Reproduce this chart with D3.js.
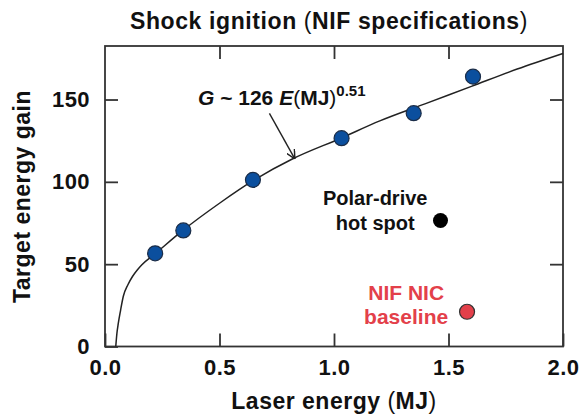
<!DOCTYPE html>
<html>
<head>
<meta charset="utf-8">
<script src="https://cdn.jsdelivr.net/npm/d3@7"></script>
<style>
  body { margin: 0; background: #fff; }
  text { font-family: "Liberation Sans", Arial, Helvetica, sans-serif; font-weight: bold; fill: #111; }
</style>
</head>
<body>
<script>
// simulation points (laser energy MJ, gain)
const energy = [0.219, 0.342, 0.646, 1.033, 1.348, 1.607];
const gain = [56.6, 70.5, 101.2, 126.5, 141.7, 163.9];

// fit curve
const fitE = [0.047, 0.052, 0.058, 0.068, 0.08, 0.10, 0.12, 0.14, 0.16, 0.22, 0.34, 0.5, 0.65, 0.82, 1.03, 1.2, 1.4, 1.6, 1.8, 2.0];
const fitG = [0, 8, 14, 22, 30.5, 37.5, 42.5, 46.3, 49.5, 56.5, 70.5, 87, 101, 114, 126.5, 137, 147.5, 158, 168.5, 178];

const polarPt = [1.465, 76.5];
const nicPt = [1.581, 21.1];

const xTicks = [0, 0.5, 1.0, 1.5, 2.0];
const yTicks = [0, 50, 100, 150];

const W = 583, H = 417;
const plotL = 105, plotR = 563, plotT = 46, plotB = 346.5;

const svg = d3.select('body').append('svg')
  .attr('width', W)
  .attr('height', H);

const x = d3.scaleLinear().domain([0, 2]).range([plotL, plotR]);
const y = d3.scaleLinear().domain([0, 182.5]).range([plotB, plotT]);

// frame
svg.append('rect')
  .attr('x', plotL).attr('y', plotT)
  .attr('width', plotR - plotL).attr('height', plotB - plotT)
  .attr('fill', 'none').attr('stroke', '#333').attr('stroke-width', 1.8);

function styleAxis(g) {
  g.select('.domain').remove();
  g.selectAll('.tick line').attr('stroke', '#333').attr('stroke-width', 1.8);
  g.selectAll('.tick text')
    .attr('fill', '#111')
    .style('font-size', '22px')
    .style('letter-spacing', '0.4px')
    .style('font-family', '"Liberation Sans", Arial, sans-serif')
    .style('font-weight', 'bold');
}

svg.append('g')
  .attr('transform', `translate(0,${plotB})`)
  .call(d3.axisBottom(x).tickValues(xTicks).tickFormat(d3.format('.1f')).tickSizeInner(-13).tickSizeOuter(0).tickPadding(13))
  .call(styleAxis);

svg.append('g')
  .attr('transform', `translate(0,${plotT})`)
  .call(d3.axisTop(x).tickValues(xTicks.slice(1, 4)).tickSizeInner(-13).tickSizeOuter(0).tickFormat(''))
  .call(styleAxis);

svg.append('g')
  .attr('transform', `translate(${plotL},0)`)
  .call(d3.axisLeft(y).tickValues(yTicks).tickSizeInner(-13).tickSizeOuter(0).tickPadding(15))
  .call(styleAxis);

svg.append('g')
  .attr('transform', `translate(${plotR},0)`)
  .call(d3.axisRight(y).tickValues(yTicks.slice(1)).tickSizeInner(-13).tickSizeOuter(0).tickFormat(''))
  .call(styleAxis);

// fit curve
const line = d3.line()
  .x(d => x(d[0]))
  .y(d => y(d[1]))
  .curve(d3.curveMonotoneX);

svg.append('path')
  .datum(d3.zip(fitE, fitG))
  .attr('d', line)
  .attr('fill', 'none')
  .attr('stroke', '#222')
  .attr('stroke-width', 1.5);

// arrow to the curve
svg.append('defs').append('marker')
  .attr('id', 'arr')
  .attr('viewBox', '0 0 10 10')
  .attr('refX', 10).attr('refY', 5)
  .attr('markerWidth', 9).attr('markerHeight', 9)
  .attr('markerUnits', 'userSpaceOnUse')
  .attr('orient', 'auto')
  .append('path')
  .attr('d', 'M0,0 L10,5 L0,10')
  .attr('fill', 'none')
  .attr('stroke', '#222')
  .attr('stroke-width', 1.6);

svg.append('line')
  .attr('x1', x(0.718)).attr('y1', y(141.6))
  .attr('x2', x(0.829)).attr('y2', y(113.9))
  .attr('stroke', '#222').attr('stroke-width', 1.4)
  .attr('marker-end', 'url(#arr)');

// points
svg.selectAll('.sim')
  .data(d3.zip(energy, gain))
  .join('circle')
  .attr('class', 'sim')
  .attr('cx', d => x(d[0]))
  .attr('cy', d => y(d[1]))
  .attr('r', 7.5)
  .attr('fill', '#0b4f9e')
  .attr('stroke', '#1b2d48')
  .attr('stroke-width', 1.2);

svg.append('circle')
  .attr('cx', x(polarPt[0])).attr('cy', y(polarPt[1]))
  .attr('r', 7.5).attr('fill', '#000');

svg.append('circle')
  .attr('cx', x(nicPt[0])).attr('cy', y(nicPt[1]))
  .attr('r', 7.5).attr('fill', '#e3404a')
  .attr('stroke', '#333').attr('stroke-width', 1.2);

// title
const title = svg.append('text')
  .attr('x', 329).attr('y', 29)
  .attr('text-anchor', 'middle')
  .style('font-size', '23px')
  .style('letter-spacing', '0.6px');
title.append('tspan').text('Shock ignition ');
title.append('tspan').style('font-weight', 'normal').text('(');
title.append('tspan').text('NIF specifications');
title.append('tspan').style('font-weight', 'normal').text(')');

// axis titles
const xt = svg.append('text')
  .attr('x', (plotL + plotR) / 2).attr('y', 409)
  .attr('text-anchor', 'middle')
  .style('font-size', '23px')
  .style('letter-spacing', '0.5px');
xt.append('tspan').text('Laser energy ');
xt.append('tspan').style('font-weight', 'normal').text('(');
xt.append('tspan').text('MJ');
xt.append('tspan').style('font-weight', 'normal').text(')');

svg.append('text')
  .attr('transform', `translate(30,196.5) rotate(-90)`)
  .attr('text-anchor', 'middle')
  .style('font-size', '23px')
  .style('letter-spacing', '0.5px')
  .text('Target energy gain');

// fit label
const fl = svg.append('text')
  .attr('x', x(0.406)).attr('y', y(146.6))
  .style('font-size', '21px');
fl.append('tspan').style('font-style', 'italic').text('G');
fl.append('tspan').text(' ~ 126 ');
fl.append('tspan').style('font-style', 'italic').text('E');
fl.append('tspan').style('font-weight', 'normal').text('(');
fl.append('tspan').text('MJ');
fl.append('tspan').style('font-weight', 'normal').text(')');
fl.append('tspan').attr('dy', -9).style('font-size', '15px').text('0.51');

// point labels
const pl = svg.append('text')
  .attr('text-anchor', 'middle')
  .style('font-size', '20px');
pl.append('tspan').attr('x', x(1.18)).attr('y', y(86)).text('Polar-drive');
pl.append('tspan').attr('x', x(1.18)).attr('y', y(70.8)).text('hot spot');

const nl = svg.append('text')
  .attr('text-anchor', 'middle')
  .style('font-size', '21px')
  .style('fill', '#e3404a');
nl.append('tspan').attr('x', x(1.315)).attr('y', y(28.2)).text('NIF NIC');
nl.append('tspan').attr('x', x(1.315)).attr('y', y(13.7)).text('baseline');
</script>
</body>
</html>
